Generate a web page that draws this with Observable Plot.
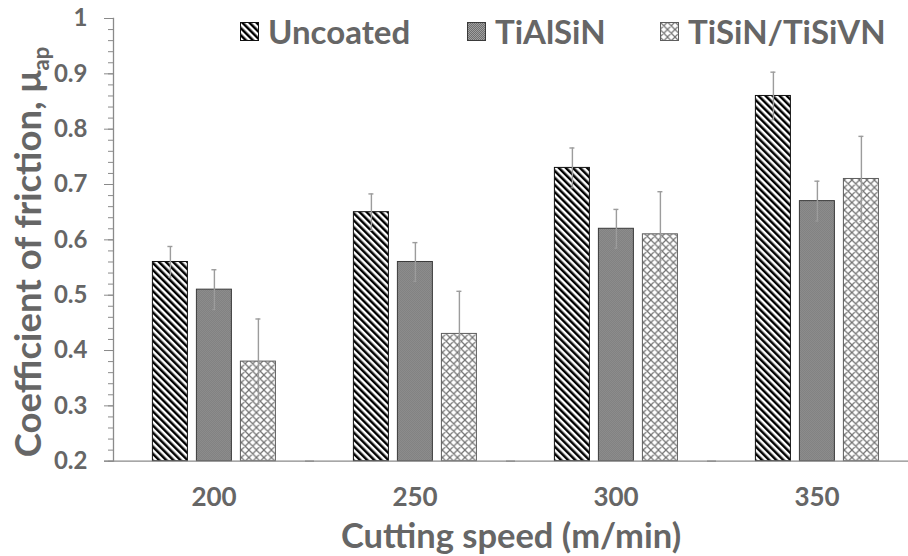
<!DOCTYPE html>
<html>
<head>
<meta charset="utf-8">
<script src="https://cdn.jsdelivr.net/npm/d3@7"></script>
<script src="https://cdn.jsdelivr.net/npm/@observablehq/plot@0.6"></script>
<style>
  html, body { margin: 0; padding: 0; background: #fff; overflow: hidden; }
  #wrap { position: relative; width: 908px; height: 556px; font-family: Lato, "Open Sans", sans-serif; }
  .item { position: absolute; top: 14px; display: flex; align-items: center; font-weight: 700; font-size: 33px; color: #666; line-height: 34px; white-space: nowrap; }
  .item svg { margin-right: 9px; }
</style>
</head>
<body>
<div id="wrap"></div>
<script>
const speeds = ["200", "250", "300", "350"];
const coatings = ["Uncoated", "TiAlSiN", "TiSiN/TiSiVN"];
const uncoated = [0.56, 0.65, 0.73, 0.86];
const uncoatedErr = [0.028, 0.033, 0.036, 0.043];
const tialsin = [0.51, 0.56, 0.62, 0.67];
const tialsinErr = [0.036, 0.035, 0.035, 0.036];
const tisin = [0.38, 0.43, 0.61, 0.71];
const tisinErr = [0.077, 0.077, 0.077, 0.077];
const yTicks = [0.2, 0.3, 0.4, 0.5, 0.6, 0.7, 0.8, 0.9, 1];
const yTickLabels = ["0.2", "0.3", "0.4", "0.5", "0.6", "0.7", "0.8", "0.9", "1"];
const yMinorTicks = d3.range(0, 41).map(i => 0.2 + i * 0.02);
const xTitle = "Cutting speed (m/min)";
const yTitle = "Coefficient of friction, μ";
const yTitleSub = "ap";

const series = [
  {name: coatings[0], values: uncoated, errs: uncoatedErr, fill: "url(#pUnc)", stroke: "#111"},
  {name: coatings[1], values: tialsin, errs: tialsinErr, fill: "url(#pTiAl)", stroke: "#3a3a3a"},
  {name: coatings[2], values: tisin, errs: tisinErr, fill: "url(#pTiSi)", stroke: "#5e5e5e"}
];
const data = series.flatMap(s => speeds.map((sp, i) => ({
  speed: sp, coating: s.name, value: s.values[i], err: s.errs[i], fill: s.fill, stroke: s.stroke
})));

const textColor = "#666";
const axisColor = "#8a8a8a";

const plot = Plot.plot({
  width: 908,
  height: 556,
  marginLeft: 111.6,
  marginRight: -11,
  marginTop: 18,
  marginBottom: 95.3,
  style: {fontFamily: "Lato, 'Open Sans', sans-serif", overflow: "hidden"},
  fx: {domain: speeds, range: [111.6, 919], padding: 0, label: null},
  x: {domain: coatings, paddingInner: 0.2, paddingOuter: 0.87, axis: null},
  y: {domain: [0.2, 1], axis: null},
  marks: [
    Plot.barY(data, {fx: "speed", x: "coating", y1: () => 0.2, y2: "value", fill: d => d.fill, stroke: d => d.stroke, strokeWidth: 1}),
    Plot.ruleX(data, {fx: "speed", x: "coating", y1: d => d.value - d.err, y2: d => d.value + d.err, stroke: "#9c9c9c", strokeWidth: 1.4}),
    Plot.tickY(data, {fx: "speed", x: "coating", y: d => d.value + d.err, stroke: "#9c9c9c", strokeWidth: 1.4, insetLeft: 15, insetRight: 15}),
    Plot.tickY(data, {fx: "speed", x: "coating", y: d => d.value - d.err, stroke: "#9c9c9c", strokeWidth: 1.2, insetLeft: 16, insetRight: 16}),
    Plot.ruleY([0.2], {stroke: axisColor, strokeWidth: 1.3, insetLeft: -9}),
    Plot.frame({anchor: "left", facetAnchor: "left", stroke: axisColor, strokeWidth: 1.3}),
    Plot.axisY({ticks: yMinorTicks, tickSize: 5, tickFormat: () => "", stroke: axisColor, facetAnchor: "left", label: null}),
    Plot.axisY({ticks: yTicks, tickSize: 9, tickPadding: 17, tickFormat: d => yTickLabels[yTicks.findIndex(t => Math.abs(t - d) < 1e-9)],
      fontSize: 24, fontWeight: "bold", fill: textColor, stroke: axisColor, facetAnchor: "left", label: null}),
    Plot.axisFx({anchor: "bottom", tickSize: 0, tickPadding: 26, fontSize: 26, fontWeight: "bold", fill: textColor, label: null})
  ]
});

const svg = d3.select(plot);
const defs = svg.insert("defs", ":first-child");
// Uncoated: wide downward diagonal stripes
const p1 = defs.append("pattern").attr("id", "pUnc").attr("patternUnits", "userSpaceOnUse")
  .attr("width", 5).attr("height", 5).attr("patternTransform", "rotate(-45)");
p1.append("rect").attr("width", 5).attr("height", 5).attr("fill", "#fff");
p1.append("rect").attr("width", 2.5).attr("height", 5).attr("fill", "#000");
// TiAlSiN: fine dotted gray
const p2 = defs.append("pattern").attr("id", "pTiAl").attr("patternUnits", "userSpaceOnUse")
  .attr("width", 2).attr("height", 2);
p2.append("rect").attr("width", 2).attr("height", 2).attr("fill", "#a0a0a0");
p2.append("rect").attr("width", 1).attr("height", 1).attr("fill", "#6e6e6e");
p2.append("rect").attr("x", 1).attr("y", 1).attr("width", 1).attr("height", 1).attr("fill", "#6e6e6e");
// TiSiN/TiSiVN: diagonal crosshatch
const p3 = defs.append("pattern").attr("id", "pTiSi").attr("patternUnits", "userSpaceOnUse")
  .attr("width", 7.5).attr("height", 7.5);
p3.append("rect").attr("width", 7.5).attr("height", 7.5).attr("fill", "#fff");
p3.append("path").attr("d", "M0,0L7.5,7.5M7.5,0L0,7.5M-1,6.5L1,8.5M6.5,-1L8.5,1M-1,1L1,-1M6.5,8.5L8.5,6.5")
  .attr("stroke", "#727272").attr("stroke-width", 1.2).attr("fill", "none");

// y title with subscript
const yt = svg.append("text")
  .attr("transform", "translate(41,252) rotate(-90)")
  .attr("text-anchor", "middle")
  .attr("fill", textColor).attr("font-size", 36.5).attr("font-weight", "bold");
yt.append("tspan").text(yTitle);
yt.append("tspan").attr("font-size", 22).attr("dy", 8).text(yTitleSub);

// x title
svg.append("text")
  .attr("x", 511).attr("y", 548)
  .attr("text-anchor", "middle")
  .attr("fill", textColor).attr("font-size", 34.5).attr("font-weight", "bold")
  .text(xTitle);

const wrap = document.getElementById("wrap");
wrap.appendChild(plot);

// legend
const lefts = [240, 467, 660];
series.forEach((s, i) => {
  const item = document.createElement("div");
  item.className = "item";
  item.style.left = lefts[i] + "px";
  const sw = d3.create("svg").attr("width", 19).attr("height", 19);
  sw.append("rect").attr("x", 0.5).attr("y", 0.5).attr("width", 18).attr("height", 18)
    .attr("fill", s.fill).attr("stroke", s.stroke).attr("stroke-width", 1);
  item.appendChild(sw.node());
  const t = document.createElement("span");
  t.textContent = s.name;
  item.appendChild(t);
  wrap.appendChild(item);
});
</script>
</body>
</html>
